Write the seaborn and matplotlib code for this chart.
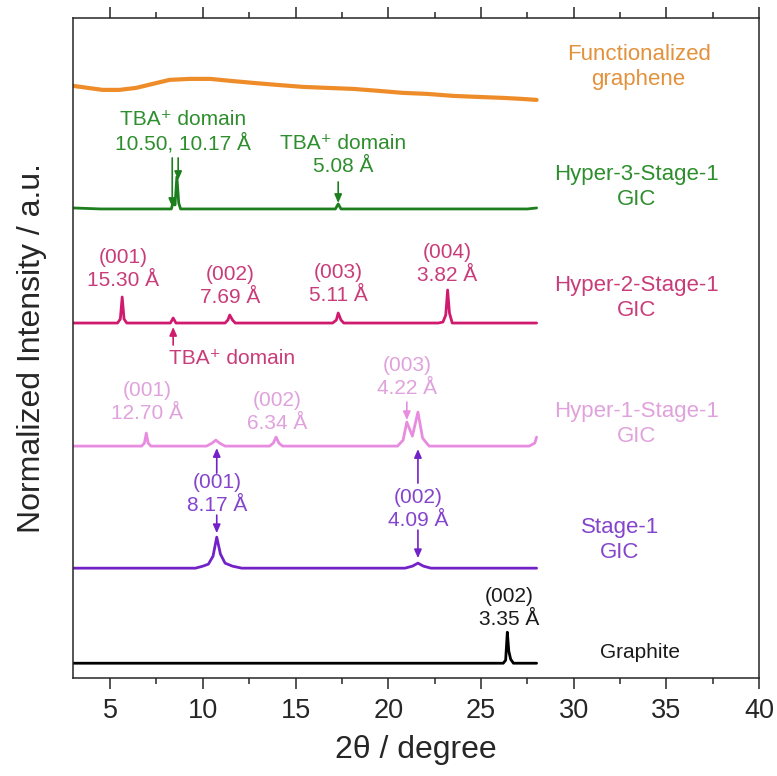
import seaborn as sns
import matplotlib.pyplot as plt
import pandas as pd

# XRD patterns (height above each baseline, arbitrary units)
graphite_x = [3, 26.2, 26.33, 26.42, 26.5, 26.6, 26.75, 28]
graphite_y = [0, 0, 3, 31, 12, 4, 0, 0]

stage1_x = [3, 9.6, 10.0, 10.3, 10.55, 10.75, 10.95, 11.2, 11.6, 12.1,
            20.9, 21.3, 21.6, 21.9, 22.3, 28]
stage1_y = [0, 0, 2, 4, 12, 31, 14, 5, 2, 0,
            0, 2, 5, 2, 0, 0]

hyper1_x = [3, 6.7, 6.85, 6.95, 7.05, 7.2, 10.2, 10.5, 10.7, 10.9, 11.2,
            13.6, 13.8, 13.95, 14.1, 14.3, 20.5, 20.8, 21.0, 21.3, 21.6,
            21.85, 22.2, 27.6, 27.9, 28]
hyper1_y = [0, 0, 3, 13, 3, 0, 0, 3, 6, 3, 0,
            0, 3, 9, 3, 0, 0, 6, 24, 10, 34,
            8, 0, 0, 3, 9]

hyper2_x = [3, 5.4, 5.55, 5.65, 5.75, 5.9, 8.25, 8.4, 8.55, 11.2, 11.35,
            11.45, 11.6, 11.75, 17.0, 17.2, 17.3, 17.45, 17.6, 22.7, 22.95,
            23.1, 23.2, 23.3, 23.45, 28]
hyper2_y = [0, 0, 4, 26, 4, 0, 0, 5, 0, 0, 3,
            8, 3, 0, 0, 3, 10, 3, 0, 0, 1,
            8, 33, 10, 0, 0]

hyper3_x = [3, 4.5, 5.0, 8.3, 8.42, 8.5, 8.6, 8.7, 8.8, 17.15, 17.3, 17.45, 27.5, 28]
hyper3_y = [1, 0, 0, 0, 8, 4, 32, 6, 0, 0, 5, 0, 0, 1]

func_x = [3, 3.8, 4.6, 5.5, 6.4, 7.3, 8.2, 9.3, 10.4, 11.5, 12.7, 14.0,
          15.4, 16.7, 18.1, 19.5, 20.8, 22.1, 23.5, 24.8, 26.2, 27.2, 28]
func_y = [2, 0, -2, -2, 0, 4, 8, 9, 9, 7, 5, 3,
          1, 0, -1, -3, -5, -6, -8, -9, -10, -11, -12]

names = ['Graphite', 'Stage-1', 'Hyper-1', 'Hyper-2', 'Hyper-3', 'Functionalized']
xs = [graphite_x, stage1_x, hyper1_x, hyper2_x, hyper3_x, func_x]
ys = [graphite_y, stage1_y, hyper1_y, hyper2_y, hyper3_y, func_y]
offsets = [15, 110, 232, 355, 469, 590]
line_colors = ['#000000', '#7322C8', '#E88CDF', '#D01A6E', '#1C7E1C', '#EE8C2A']
text_colors = ['#1a1a1a', '#8444CC', '#E0A2DC', '#C93C7A', '#2E8E2E', '#E2913C']

sample_labels = ['Graphite', 'Stage-1\nGIC', 'Hyper-1-Stage-1\nGIC',
                 'Hyper-2-Stage-1\nGIC', 'Hyper-3-Stage-1\nGIC', 'Functionalized\ngraphene']
sample_label_x = [33.6, 32.5, 33.4, 33.4, 33.4, 33.5]
sample_label_y = [26, 138, 254, 380, 491, 611]

# peak labels: (curve index, x, y, text)
peak_labels = [
    (0, 26.5, 70, '(002)\n3.35 Å'),
    (1, 10.8, 184, '(001)\n8.17 Å'),
    (1, 21.6, 169, '(002)\n4.09 Å'),
    (2, 7.0, 276, '(001)\n12.70 Å'),
    (2, 14.0, 266, '(002)\n6.34 Å'),
    (2, 21.0, 301, '(003)\n4.22 Å'),
    (3, 5.7, 409, '(001)\n15.30 Å'),
    (3, 11.45, 392, '(002)\n7.69 Å'),
    (3, 17.3, 394, '(003)\n5.11 Å'),
    (3, 23.2, 414, '(004)\n3.82 Å'),
    (4, 8.93, 546, 'TBA⁺ domain\n10.50, 10.17 Å'),
    (4, 17.55, 523, 'TBA⁺ domain\n5.08 Å'),
]
# arrows: (curve index, x, y_from, y_to)
arrows = [
    (1, 10.75, 205, 230), (1, 10.75, 163, 145),
    (1, 21.6, 195, 229), (1, 21.6, 148, 120),
    (2, 21.0, 276, 258),
    (3, 8.4, 333, 351),
    (4, 8.35, 520, 471), (4, 8.67, 520, 498), (4, 17.3, 496, 475),
]

sns.set_style('ticks')
plt.rcParams['font.family'] = ['Liberation Sans', 'DejaVu Sans']

fig = plt.figure(figsize=(7.77, 7.76), dpi=100)
ax = fig.add_axes([0.094, 0.126, 0.883, 0.851])

for i in range(len(names)):
    df = pd.DataFrame({'x': xs[i], 'y': [v + offsets[i] for v in ys[i]]})
    lw = 3.0 if names[i] == 'Functionalized' else 2.0
    sns.lineplot(data=df, x='x', y='y', ax=ax, color=line_colors[i], lw=lw,
                 sort=False, estimator=None)

for i in range(len(sample_labels)):
    ax.text(sample_label_x[i], sample_label_y[i], sample_labels[i],
            color=text_colors[i], fontsize=16 if i else 15,
            ha='center', va='center', linespacing=1.25)

for ci, px, py, txt in peak_labels:
    ax.text(px, py, txt, color=text_colors[ci], fontsize=15,
            ha='center', va='center', linespacing=1.25)

ax.text(8.2, 320, 'TBA⁺ domain', color=text_colors[3], fontsize=15,
        ha='left', va='center')

for ci, px, y0, y1 in arrows:
    ax.annotate('', xy=(px, y1), xytext=(px, y0),
                arrowprops=dict(arrowstyle='-|>,head_length=0.5,head_width=0.22',
                                color=line_colors[ci],
                                lw=1.2, shrinkA=0, shrinkB=0))

ax.set_xlim(3, 40)
ax.set_ylim(0, 660)
ax.set_xticks([5, 10, 15, 20, 25, 30, 35, 40])
ax.set_xticks([7.5, 12.5, 17.5, 22.5, 27.5, 32.5, 37.5], minor=True)
ax.set_yticks([])
ax.tick_params(axis='x', which='major', direction='out', length=8, width=1.1,
               labelsize=19.5, top=True, pad=6)
ax.tick_params(axis='x', which='minor', direction='out', length=4, width=1.1, top=True)
for s in ax.spines.values():
    s.set_linewidth(1.1)
    s.set_visible(True)

ax.set_xlabel('2θ / degree', fontsize=23, labelpad=8)
ax.set_ylabel('Normalized Intensity / a.u.', fontsize=23)
ax.yaxis.set_label_coords(-0.038, 0.5)

fig.savefig('out.png', dpi=100)
